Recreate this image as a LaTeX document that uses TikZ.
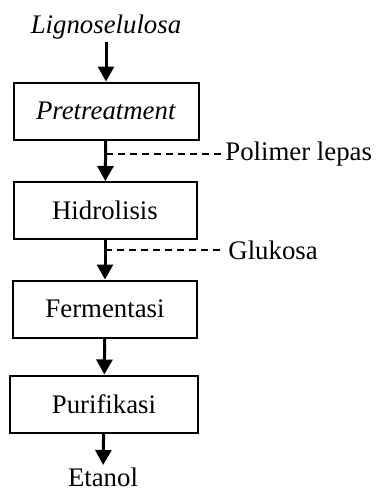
\documentclass[tikz,border=0pt]{standalone}
\usepackage{fontspec}
\setmainfont{Liberation Serif}
\usetikzlibrary{arrows.meta}
\tikzset{
    procbox/.style={draw=black,line width=1pt,minimum height=28.5pt,inner sep=2pt,
      font=\fontsize{13.4}{16}\selectfont},
    flowarrow/.style={-{Triangle[length=7.5pt,width=8pt]},line width=1.5pt},
    sidedash/.style={line width=0.6pt,dash pattern=on 3.5pt off 2.5pt},
    plaintext/.style={inner ysep=1pt,inner xsep=2pt,font=\fontsize{13.4}{16}\selectfont}
}
\begin{document}
\begin{tikzpicture}[x=0.5pt,y=-0.5pt]
  \useasboundingbox (0,0) rectangle (376,493);
  \node[plaintext] (lig) at (106,27){\textit{Lignoselulosa}};
  \node[procbox,minimum width=92.5pt] (pre) at (106,111){\textit{Pretreatment}};
  \node[procbox,minimum width=91.5pt] (hid) at (105,210.5){Hidrolisis};
  \node[procbox,minimum width=92pt] (fer) at (105,309){Fermentasi};
  \node[procbox,minimum width=94pt] (pur) at (104,404){Purifikasi};
  \node[plaintext,anchor=north] (eta) at (103,465){Etanol};
  \draw[flowarrow] (lig) -- (pre);
  \draw[flowarrow] (pre) -- (hid);
  \draw[flowarrow] (hid) -- (fer);
  \draw[flowarrow] (fer) -- (pur);
  \draw[flowarrow] (pur) -- (eta);
  % side products
  \coordinate (d1) at (106,154);
  \node[plaintext,anchor=west] (pol) at (221,154){Polimer lepas};
  \draw[sidedash] (d1) -- (pol.west);
  \coordinate (d2) at (105,250);
  \node[plaintext,anchor=west] (glu) at (224,250){Glukosa};
  \draw[sidedash] (d2) -- (glu.west);
\end{tikzpicture}
\end{document}
